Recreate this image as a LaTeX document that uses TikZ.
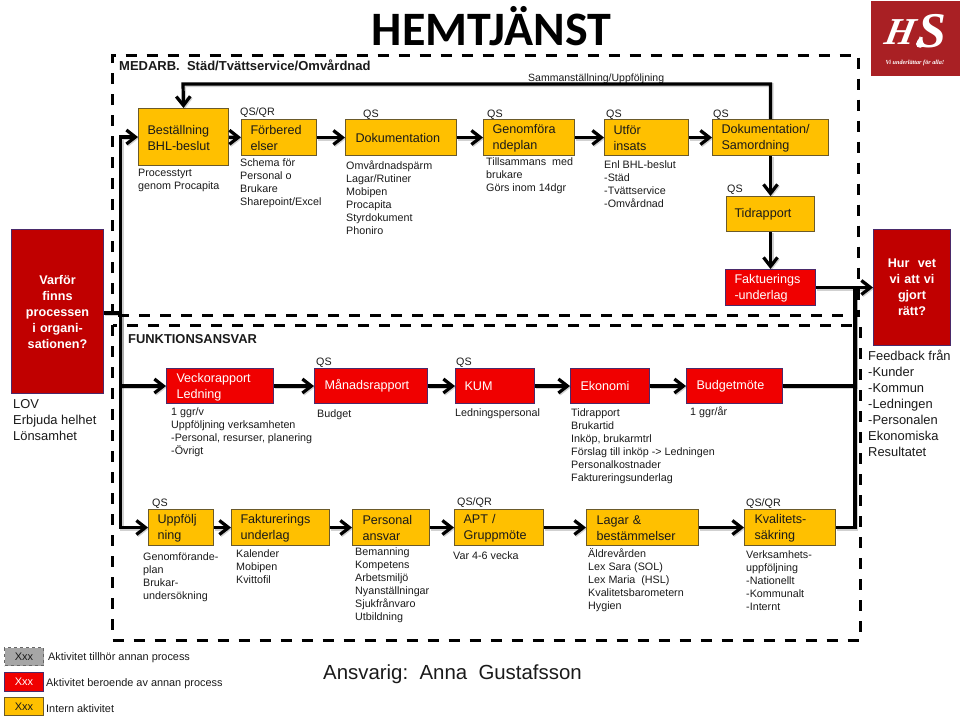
\documentclass[tikz,border=0pt]{standalone}
\usepackage{fontspec}
\setmainfont{Liberation Sans}
\newfontfamily\carlito{Carlito}
\newfontfamily\lserif{Liberation Serif}
\usetikzlibrary{arrows.meta}
\definecolor{orangeb}{HTML}{FFC000}
\definecolor{orangee}{HTML}{6B5A2A}
\definecolor{redb}{HTML}{F00000}
\definecolor{rede}{HTML}{4A2A6A}
\definecolor{darkred}{HTML}{C00000}
\definecolor{logored}{HTML}{A92024}
\definecolor{txt}{HTML}{1A1A1A}
\tikzset{
  x=1pt,y=-1pt,
  boxbase/.style={rectangle,anchor=north west,inner ysep=0pt,inner xsep=0pt,align=left,line width=1pt,font=\fontsize{12.6}{16}\selectfont,text=txt},
  obox/.style={boxbase,draw=orangee,fill=orangeb},
  rbox/.style={boxbase,draw=rede,fill=redb,text=white},
  qbox/.style={rectangle,anchor=north west,inner sep=0pt,align=center,line width=1pt,draw=rede,fill=darkred,text=white,font=\bfseries\fontsize{12.6}{16}\selectfont},
  notetxt/.style={anchor=north west,inner sep=0pt,align=left,text=txt,font=\fontsize{10.75}{13}\selectfont},
  sidetxt/.style={anchor=north west,inner sep=0pt,align=left,text=txt,font=\fontsize{12.9}{16}\selectfont},
  dashbox/.style={draw=black,line width=3pt,dash pattern=on 11pt off 10pt},
  softshadow/.style={preaction={draw=black!18,line width=4pt,blend mode=multiply,transform canvas={shift={(1pt,-1.2pt)}}}},
  conn/.style={draw=black,line width=3.2pt,softshadow},
  arr/.style={conn,-{Straight Barb[length=9pt,width=14pt,line width=3.2pt]}},
  legbox/.style={rectangle,anchor=north west,inner sep=0pt,line width=1pt,font=\fontsize{11}{11}\selectfont,align=center},
  legtxt/.style={anchor=west,inner sep=0pt,text=txt,font=\fontsize{10.9}{12}\selectfont},
}
% name, style, x1, y1, x2, y2, text (text inset from the left edge)
\newcommand{\bx}[7]{\pgfmathsetmacro{\bw}{#5-#3}\pgfmathsetmacro{\bh}{#6-#4}%
  \node[#2,minimum width=\bw pt,minimum height=\bh pt,text width=\bw pt-12pt,inner xsep=6pt] (#1) at (#3,#4) {#7};}
\newcommand{\tw}{\rule{0pt}{11pt}}
\newcommand{\qb}[7]{\pgfmathsetmacro{\bw}{#5-#3}\pgfmathsetmacro{\bh}{#6-#4}%
  \node[#2,minimum width=\bw pt,minimum height=\bh pt,text width=\bw pt] (#1) at (#3,#4) {#7};}
\newcommand{\nt}[4]{\node[notetxt] (#1) at (#2,#3-4.8) {\strut #4};}
\newcommand{\sd}[4]{\node[sidetxt] (#1) at (#2,#3-6) {\strut #4};}
\begin{document}
\begin{tikzpicture}
\useasboundingbox (0,0) rectangle (960,720);
% title
\node[inner sep=0pt,font=\carlito\bfseries\fontsize{48}{48}\selectfont,text=black] (title) at (491.5,26) {HEMTJÄNST};
% logo
\fill[logored] (871,1) rectangle (960,76);
\node[inner sep=0pt,text=white,xslant=0.2,font=\lserif\bfseries\itshape\fontsize{38}{38}\selectfont] (logoh) at (901,32) {H};
\node[inner sep=0pt,text=white,font=\lserif\bfseries\itshape\fontsize{50}{50}\selectfont] (logos) at (932,31) {S};
\path[fill=white] (920,36) .. controls (921,40) and (924,41) .. (924,44) .. controls (924,49) and (916,49) .. (916,44) .. controls (916,41) and (919,40) .. (920,36) -- cycle;
\node[inner sep=0pt,text=white,font=\lserif\bfseries\itshape\fontsize{6.2}{6}\selectfont] (logotag) at (915,62.5) {Vi underlättar för alla!};
% frames
\draw[dashbox] (112.5,315) -- (112.5,55) -- (858,55) -- (858,315) -- cycle;
\draw[dashbox] (112.5,325) -- (112.5,640) -- (860,640) -- (860,325) -- cycle;
% section headings
\node[anchor=west,inner sep=0pt,text=txt,font=\bfseries\fontsize{13}{13}\selectfont] (med) at (119,65) {MEDARB.\ \ Städ/Tvättservice/Omvårdnad};
\node[anchor=west,inner sep=0pt,text=txt,font=\bfseries\fontsize{12.9}{13}\selectfont] (funk) at (128,339) {FUNKTIONSANSVAR};
\node[anchor=west,inner sep=0pt,text=txt,font=\fontsize{10.5}{13}\selectfont] (samm) at (528,78.5) {Sammanställning/Uppföljning};
% question boxes
\qb{varfor}{qbox}{11}{229}{103}{393}{Varför\\finns\\processen\\i organi-\\sationen?}
\qb{hur}{qbox}{873}{229}{950}{345}{Hur\ \ vet\\vi att vi\\gjort\\rätt?}
% row 1
\bx{best}{obox}{138}{108}{228}{165}{\tw\hspace{3pt}Beställning\\\hspace{3pt}BHL-beslut}
\bx{forb}{obox}{241}{119}{316}{155}{\tw\hspace{3pt}Förbered\\\hspace{3pt}elser}
\bx{doku}{obox}{345}{119}{456}{155}{\hspace{4pt}Dokumentation}
\bx{genom}{obox}{483}{119}{574}{155}{\tw\hspace{3pt}Genomföra\\\hspace{3pt}ndeplan}
\bx{utfor}{obox}{604}{119}{688}{155}{\tw\hspace{3pt}Utför\\\hspace{3pt}insats}
\bx{doksam}{obox}{712}{119}{828}{155}{\tw\hspace{3pt}Dokumentation/\\\hspace{3pt}Samordning}
\bx{tid}{obox}{726}{196}{814}{231}{\hspace{2pt}Tidrapport}
\bx{fakt}{rbox}{725}{269}{815}{305}{\tw\hspace{3pt}Faktuerings\\\hspace{3pt}-underlag}
% row 2
\bx{veck}{rbox}{166}{368}{273}{403}{\tw\hspace{4pt}Veckorapport\\\hspace{4pt}Ledning}
\bx{mana}{rbox}{314}{368}{427}{403}{\hspace{4pt}Månadsrapport}
\bx{kum}{rbox}{455}{368}{534}{403}{\hspace{3pt}KUM}
\bx{ekon}{rbox}{570}{368}{649}{403}{\hspace{4pt}Ekonomi}
\bx{budg}{rbox}{686}{368}{782}{403}{\hspace{4pt}Budgetmöte}
% row 3
\bx{uppf}{obox}{148}{509}{213}{545}{\tw\hspace{3pt}Uppfölj\\\hspace{3pt}ning}
\bx{fakt2}{obox}{231}{509}{329}{545}{\tw\hspace{3pt}Fakturerings\\\hspace{3pt}underlag}
\bx{pers}{obox}{352}{509}{429}{545}{\tw\hspace{4pt}Personal\\\hspace{4pt}ansvar}
\bx{apt}{obox}{454}{509}{543}{545}{\tw\hspace{3pt}APT /\\\hspace{3pt}Gruppmöte}
\bx{lagar}{obox}{586}{509}{698}{545}{\tw\hspace{4pt}Lagar \&\\\hspace{4pt}bestämmelser}
\bx{kval}{obox}{744}{509}{835}{545}{\tw\hspace{4pt}Kvalitets-\\\hspace{4pt}säkring}
% QS labels
\nt{q1}{240}{111}{QS/QR}
\nt{q2}{363}{113}{QS}
\nt{q3}{487}{113}{QS}
\nt{q4}{606}{113}{QS}
\nt{q5}{713}{113}{QS}
\nt{q6}{727}{188}{QS}
\nt{q7}{316}{361}{QS}
\nt{q8}{456}{361}{QS}
\nt{q9}{152}{502}{QS}
\nt{q10}{457}{501}{QS/QR}
\nt{q11}{746}{502}{QS/QR}
% notes
\nt{n1}{138}{172}{Processtyrt\\genom Procapita}
\nt{n2}{240}{162}{Schema för\\Personal o\\Brukare\\Sharepoint/Excel}
\nt{n3}{346}{165}{Omvårdnadspärm\\Lagar/Rutiner\\Mobipen\\Procapita\\Styrdokument\\Phoniro}
\nt{n4}{486}{161}{Tillsammans\ \ med\\brukare\\Görs inom 14dgr}
\nt{n5}{604}{164}{Enl BHL-beslut\\-Städ\\-Tvättservice\\-Omvårdnad}
\nt{n6}{171}{411}{1 ggr/v\\Uppföljning verksamheten\\-Personal, resurser, planering\\-Övrigt}
\nt{n7}{317}{413}{Budget}
\nt{n8}{455}{412}{Ledningspersonal}
\nt{n9}{571}{412}{Tidrapport\\Brukartid\\Inköp, brukarmtrl\\Förslag till inköp -> Ledningen\\Personalkostnader\\Faktureringsunderlag}
\nt{n10}{690}{411}{1 ggr/år}
\nt{n11}{143}{556}{Genomförande-\\plan\\Brukar-\\undersökning}
\nt{n12}{236}{553}{Kalender\\Mobipen\\Kvittofil}
\nt{n13}{355}{551}{Bemanning\\Kompetens\\Arbetsmiljö\\Nyanställningar\\Sjukfrånvaro\\Utbildning}
\nt{n14}{453}{555}{Var 4-6 vecka}
\nt{n15}{588}{553}{Äldrevården\\Lex Sara (SOL)\\Lex Maria\ \ (HSL)\\Kvalitetsbarometern\\Hygien}
\nt{n16}{746}{554}{Verksamhets-\\uppföljning\\-Nationellt\\-Kommunalt\\-Internt}
\sd{s1}{13}{403}{LOV\\Erbjuda helhet\\Lönsamhet}
\sd{s2}{868}{355}{Feedback från\\-Kunder\\-Kommun\\-Ledningen\\-Personalen\\Ekonomiska\\Resultatet}
% connectors
\coordinate (trunkL) at (120.5,313);
\coordinate (trunkR) at (855,288);
\coordinate (fbc) at (183,84);
\draw[conn] (varfor.east |- trunkL) -- (trunkL);
\draw[arr] (trunkL) |- (best.west);
\draw[arr] (trunkL) |- (veck.west);
\draw[arr] (trunkL) |- (uppf.west);
\draw[arr] (best) -- (forb);
\draw[arr] (forb) -- (doku);
\draw[arr] (doku) -- (genom);
\draw[arr] (genom) -- (utfor);
\draw[arr] (utfor) -- (doksam);
\draw[arr] (doksam) -- (tid);
\draw[arr] (tid) -- (fakt);
\draw[arr] (doksam.north) |- (fbc) -- (best.north);
\draw[arr] (veck) -- (mana);
\draw[arr] (mana) -- (kum);
\draw[arr] (kum) -- (ekon);
\draw[arr] (ekon) -- (budg);
\draw[arr] (uppf) -- (fakt2);
\draw[arr] (fakt2) -- (pers);
\draw[arr] (pers) -- (apt);
\draw[arr] (apt) -- (lagar);
\draw[arr] (lagar) -- (kval);
\draw[arr] (fakt.east) -- (fakt.east -| hur.west);
\draw[conn] (budg.east) -| (trunkR);
\draw[conn] (kval.east) -| (trunkR);
% footer
\node[anchor=west,inner sep=0pt,text=txt,font=\fontsize{20.4}{22}\selectfont] (ansv) at (323,674) {Ansvarig:\ \ Anna\ \ Gustafsson};
% legend
\node[legbox,draw=gray!80!black,dashed,fill=gray!70,minimum width=39pt,minimum height=18pt,text=txt] (l1) at (4,647) {Xxx};
\node[legbox,draw=rede,fill=redb,minimum width=39pt,minimum height=19pt,text=white] (l2) at (4,672) {Xxx};
\node[legbox,draw=orangee,fill=orangeb,minimum width=39pt,minimum height=18pt,text=txt] (l3) at (4,697) {Xxx};
\node[legtxt] (lt1) at (48,657.5) {Aktivitet tillhör annan process};
\node[legtxt] (lt2) at (46,683.5) {Aktivitet beroende av annan process};
\node[legtxt] (lt3) at (46,708.5) {Intern aktivitet};
\end{tikzpicture}
\end{document}
